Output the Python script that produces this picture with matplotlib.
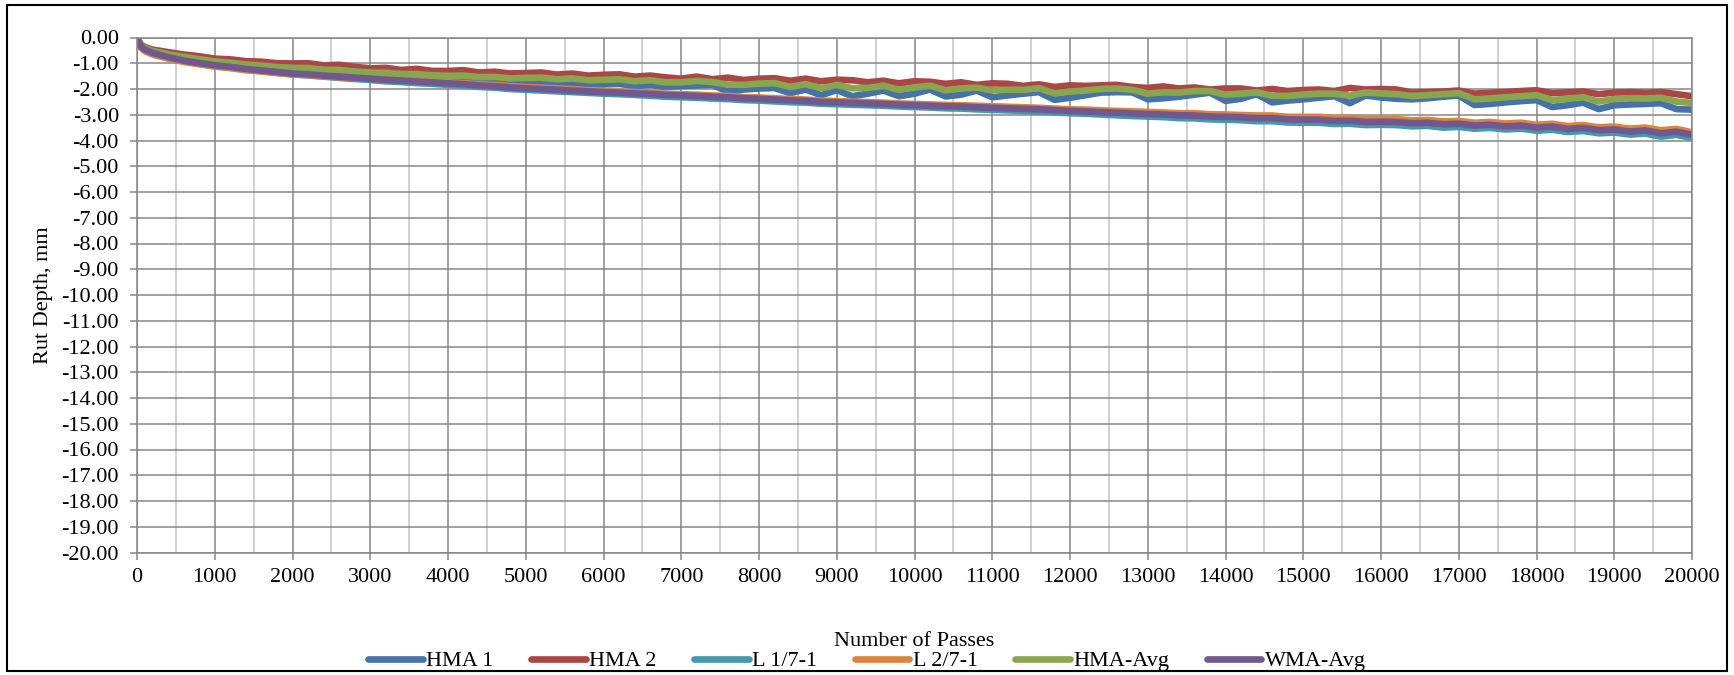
import matplotlib
matplotlib.use("Agg")
import matplotlib.pyplot as plt
from matplotlib.ticker import MultipleLocator, FuncFormatter
from matplotlib.patches import Rectangle

plt.rcParams['font.family'] = ['Liberation Serif', 'DejaVu Serif']

# Number of passes at which rut depth was recorded
passes = [0, 50, 100] + list(range(200, 20001, 200))

hma_1 = [
    0.00, -0.33, -0.45,
    -0.58, -0.73, -0.84, -0.94, -1.03,
    -1.10, -1.17, -1.23, -1.29, -1.34,
    -1.38, -1.42, -1.45, -1.49, -1.52,
    -1.55, -1.58, -1.62, -1.64, -1.68,
    -1.68, -1.72, -1.73, -1.77, -1.76,
    -1.76, -1.80, -1.78, -1.84, -1.82,
    -1.80, -1.88, -1.84, -1.92, -1.88,
    -1.86, -1.84, -2.10, -2.02, -1.98,
    -1.96, -2.16, -2.02, -2.24, -2.04,
    -2.28, -2.18, -2.06, -2.28, -2.18,
    -2.02, -2.29, -2.22, -2.06, -2.32,
    -2.25, -2.18, -2.12, -2.42, -2.34,
    -2.24, -2.14, -2.12, -2.13, -2.40,
    -2.36, -2.30, -2.22, -2.14, -2.46,
    -2.38, -2.20, -2.52, -2.45, -2.40,
    -2.34, -2.28, -2.55, -2.25, -2.33,
    -2.38, -2.40, -2.36, -2.30, -2.25,
    -2.62, -2.58, -2.52, -2.47, -2.43,
    -2.70, -2.63, -2.53, -2.78, -2.63,
    -2.60, -2.58, -2.55, -2.78, -2.80,
]

hma_2 = [
    0.00, -0.27, -0.37,
    -0.47, -0.57, -0.66, -0.73, -0.82,
    -0.85, -0.92, -0.94, -1.00, -1.01,
    -1.00, -1.08, -1.06, -1.14, -1.20,
    -1.18, -1.26, -1.22, -1.30, -1.30,
    -1.27, -1.36, -1.33, -1.40, -1.38,
    -1.36, -1.44, -1.40, -1.48, -1.45,
    -1.43, -1.52, -1.48, -1.55, -1.60,
    -1.52, -1.62, -1.56, -1.65, -1.60,
    -1.58, -1.68, -1.60, -1.70, -1.64,
    -1.66, -1.74, -1.68, -1.78, -1.70,
    -1.72, -1.80, -1.74, -1.84, -1.78,
    -1.80, -1.88, -1.82, -1.92, -1.86,
    -1.88, -1.86, -1.84, -1.92, -1.96,
    -1.90, -1.98, -1.94, -2.02, -1.98,
    -1.98, -2.06, -2.00, -2.08, -2.04,
    -2.02, -2.08, -1.96, -2.02, -2.00,
    -2.02, -2.14, -2.12, -2.10, -2.06,
    -2.18, -2.15, -2.12, -2.08, -2.05,
    -2.16, -2.13, -2.10, -2.20, -2.14,
    -2.12, -2.15, -2.12, -2.20, -2.28,
]

l_1_7_1 = [
    0.00, -0.37, -0.50,
    -0.63, -0.79, -0.93, -1.02, -1.11,
    -1.17, -1.25, -1.31, -1.37, -1.43,
    -1.47, -1.52, -1.57, -1.61, -1.65,
    -1.70, -1.73, -1.77, -1.80, -1.84,
    -1.87, -1.92, -1.95, -2.00, -2.03,
    -2.06, -2.09, -2.12, -2.15, -2.18,
    -2.20, -2.23, -2.26, -2.30, -2.32,
    -2.34, -2.37, -2.39, -2.43, -2.45,
    -2.48, -2.51, -2.53, -2.57, -2.59,
    -2.61, -2.63, -2.65, -2.68, -2.70,
    -2.72, -2.75, -2.76, -2.79, -2.81,
    -2.83, -2.85, -2.88, -2.91, -2.94,
    -2.96, -2.99, -3.02, -3.05, -3.07,
    -3.09, -3.13, -3.14, -3.18, -3.19,
    -3.21, -3.25, -3.25, -3.30, -3.31,
    -3.31, -3.36, -3.35, -3.40, -3.39,
    -3.40, -3.45, -3.43, -3.50, -3.47,
    -3.54, -3.51, -3.57, -3.54, -3.62,
    -3.58, -3.67, -3.63, -3.72, -3.69,
    -3.77, -3.73, -3.85, -3.78, -3.90,
]

l_2_7_1 = [
    0.00, -0.40, -0.53,
    -0.66, -0.82, -0.95, -1.04, -1.13,
    -1.19, -1.27, -1.32, -1.38, -1.44,
    -1.46, -1.51, -1.54, -1.57, -1.60,
    -1.62, -1.64, -1.68, -1.70, -1.74,
    -1.77, -1.82, -1.84, -1.89, -1.92,
    -1.95, -1.98, -2.01, -2.04, -2.07,
    -2.09, -2.12, -2.14, -2.18, -2.20,
    -2.22, -2.25, -2.27, -2.31, -2.33,
    -2.36, -2.39, -2.41, -2.45, -2.47,
    -2.49, -2.51, -2.53, -2.56, -2.58,
    -2.60, -2.62, -2.63, -2.65, -2.67,
    -2.69, -2.71, -2.73, -2.76, -2.79,
    -2.80, -2.83, -2.85, -2.87, -2.89,
    -2.91, -2.94, -2.94, -2.98, -2.99,
    -3.01, -3.03, -3.03, -3.08, -3.08,
    -3.08, -3.13, -3.12, -3.17, -3.16,
    -3.17, -3.22, -3.20, -3.26, -3.24,
    -3.31, -3.28, -3.34, -3.31, -3.39,
    -3.35, -3.44, -3.40, -3.49, -3.46,
    -3.54, -3.50, -3.60, -3.55, -3.68,
]

hma_avg = [
    0.00, -0.30, -0.41,
    -0.52, -0.65, -0.75, -0.84, -0.93,
    -0.98, -1.05, -1.09, -1.15, -1.18,
    -1.19, -1.25, -1.26, -1.32, -1.36,
    -1.37, -1.42, -1.42, -1.47, -1.49,
    -1.48, -1.54, -1.53, -1.59, -1.57,
    -1.56, -1.62, -1.59, -1.66, -1.64,
    -1.62, -1.70, -1.66, -1.74, -1.74,
    -1.69, -1.73, -1.83, -1.84, -1.79,
    -1.77, -1.92, -1.81, -1.97, -1.84,
    -1.97, -1.96, -1.87, -2.03, -1.94,
    -1.87, -2.05, -1.98, -1.95, -2.05,
    -2.03, -2.03, -1.97, -2.17, -2.10,
    -2.06, -2.00, -1.98, -2.03, -2.18,
    -2.13, -2.14, -2.08, -2.08, -2.22,
    -2.18, -2.13, -2.26, -2.27, -2.22,
    -2.18, -2.18, -2.26, -2.14, -2.17,
    -2.20, -2.27, -2.24, -2.20, -2.16,
    -2.40, -2.37, -2.32, -2.28, -2.24,
    -2.43, -2.38, -2.32, -2.49, -2.39,
    -2.36, -2.37, -2.34, -2.49, -2.54,
]

wma_avg = [
    0.00, -0.35, -0.47,
    -0.60, -0.76, -0.90, -0.99, -1.08,
    -1.14, -1.22, -1.28, -1.34, -1.40,
    -1.43, -1.48, -1.52, -1.56, -1.60,
    -1.64, -1.67, -1.71, -1.74, -1.78,
    -1.81, -1.86, -1.89, -1.94, -1.97,
    -2.00, -2.03, -2.06, -2.09, -2.12,
    -2.14, -2.17, -2.19, -2.23, -2.25,
    -2.27, -2.30, -2.32, -2.36, -2.38,
    -2.41, -2.44, -2.46, -2.50, -2.52,
    -2.54, -2.56, -2.58, -2.61, -2.63,
    -2.65, -2.67, -2.68, -2.71, -2.73,
    -2.75, -2.77, -2.79, -2.82, -2.85,
    -2.87, -2.90, -2.92, -2.95, -2.97,
    -2.99, -3.02, -3.03, -3.07, -3.08,
    -3.10, -3.13, -3.13, -3.18, -3.19,
    -3.19, -3.24, -3.23, -3.28, -3.27,
    -3.28, -3.33, -3.31, -3.37, -3.35,
    -3.42, -3.39, -3.45, -3.42, -3.50,
    -3.46, -3.55, -3.51, -3.60, -3.57,
    -3.65, -3.61, -3.72, -3.66, -3.78,
]

series_names = ["HMA 1", "HMA 2", "L 1/7-1", "L 2/7-1", "HMA-Avg", "WMA-Avg"]
series_values = [hma_1, hma_2, l_1_7_1, l_2_7_1, hma_avg, wma_avg]
series_colors = ["#4572A7", "#AA4643", "#4198AF", "#DB843D", "#89A54E", "#71588F"]

FS = 16
W, H = 1734, 675
fig = plt.figure(figsize=(W / 100, H / 100), dpi=100)
left, right, top, bottom = 137, 1692, 37.5, 552.5
ax = fig.add_axes([left / W, 1 - bottom / H, (right - left) / W, (bottom - top) / H])

grid_dark = "#868686"
grid_light = "#C3C3C3"

lines = []
for name, vals, col in zip(series_names, series_values, series_colors):
    (ln,) = ax.plot(passes, vals, color=col, lw=4.8, label=name,
                    solid_capstyle="round", solid_joinstyle="round")
    lines.append(ln)

ax.set_xlim(0, 20000)
ax.set_ylim(-20, 0)
ax.xaxis.set_major_locator(MultipleLocator(1000))
ax.xaxis.set_minor_locator(MultipleLocator(500))
ax.yaxis.set_major_locator(MultipleLocator(1))
ax.yaxis.set_major_formatter(FuncFormatter(lambda v, _: f"{v:.2f}".replace("-0.00", "0.00")))
ax.xaxis.set_major_formatter(FuncFormatter(lambda v, _: f"{int(round(v))}"))

ax.set_axisbelow(True)
ax.grid(which="major", axis="both", color=grid_dark, lw=1.1)
ax.grid(which="minor", axis="x", color=grid_light, lw=1.1)
for s in ax.spines.values():
    s.set_color(grid_dark)
    s.set_linewidth(1.1)

ax.tick_params(axis="both", which="major", length=5, width=1.1, color=grid_dark,
               labelsize=FS, labelcolor="black")
ax.tick_params(axis="x", which="major", pad=6)
ax.tick_params(axis="y", which="major", pad=8)
ax.tick_params(axis="x", which="minor", length=0)

ax.set_ylabel("Rut Depth, mm", fontsize=FS)
ax.yaxis.set_label_coords((53 - left) / (right - left), 0.5)
fig.text(0.5 * (left + right) / W, 1 - 641 / H, "Number of Passes", ha="center", va="center",
         fontsize=FS)

fig.legend(handles=lines, loc="center", bbox_to_anchor=(0.5, 1 - 661 / H), ncol=6,
           frameon=False, fontsize=FS, handlelength=2.45, handletextpad=0.15,
           columnspacing=1.7, borderpad=0)

# Chart-area border
fig.add_artist(Rectangle((7 / W, 4 / H), (1727 - 7) / W, (670 - 4) / H,
                         transform=fig.transFigure, fill=False, edgecolor="black", lw=1.5))

fig.savefig("out.png", dpi=100)
